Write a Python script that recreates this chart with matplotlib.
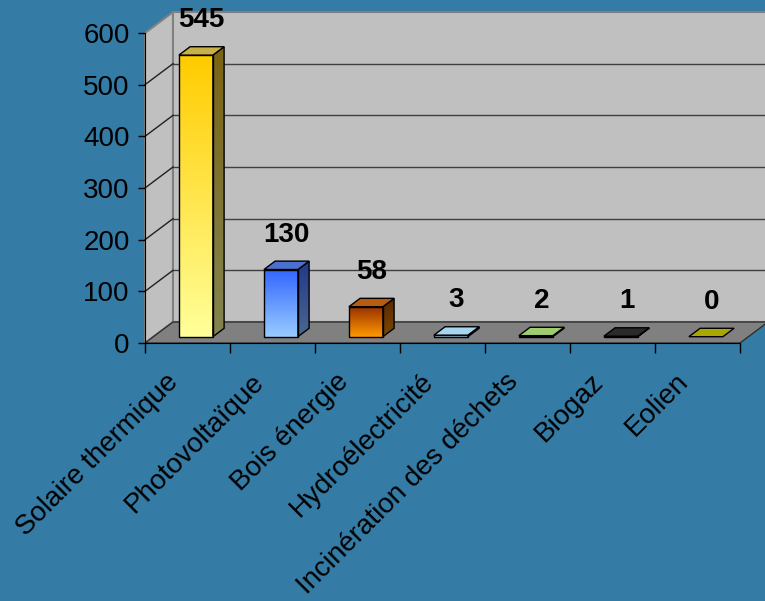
import numpy as np
import matplotlib
matplotlib.use("Agg")
import matplotlib.pyplot as plt
from matplotlib.patches import Polygon
from matplotlib.colors import to_rgb

plt.rcParams['font.family'] = ['Liberation Sans', 'DejaVu Sans']

# Données
categories = ["Solaire thermique", "Photovoltaïque", "Bois énergie",
              "Hydroélectricité", "Incinération des déchets", "Biogaz", "Eolien"]
values = [545, 130, 58, 3, 2, 1, 0]
y_ticks = [0, 100, 200, 300, 400, 500, 600]

# Couleurs des barres : face avant (haut, bas), côté (haut, bas), dessus
front_top = ['#FFCC00', '#3366FF', '#993300', '#6699CC', '#669933', '#000000', '#666600']
front_bottom = ['#FFFF99', '#99CCFF', '#FF9900', '#CCECFF', '#CCFF99', '#333333', '#CCCC00']
side_top = ['#7A6414', '#22388A', '#5A2600', '#3A5A7A', '#3A5A1A', '#000000', '#3A3A00']
side_bottom = ['#848450', '#4A6890', '#7A4A00', '#6A8AA0', '#6A8A4A', '#1A1A1A', '#6A6A00']
top_face = ['#C8B048', '#4A70D0', '#B85C10', '#A8D4F0', '#A0CC70', '#2A2A2A', '#A8A800']

BG = '#347BA5'
W, H = 765, 601
FS = 20

# Géométrie de la vue 3D (en pixels)
X0, Y0 = 145, 343        # origine de l'axe
PX_CAT = 85              # largeur d'une catégorie
PX_Y = 310 / 600         # pixels par unité
DEPTH_PX = (28, 21)      # profondeur du graphique

DX = DEPTH_PX[0] / PX_CAT
DY = DEPTH_PX[1] / PX_Y
BAR_W = 0.4
D0, D1 = 0.3, 0.7

fig = plt.figure(figsize=(W / 100, H / 100), dpi=100, facecolor=BG)
ax = fig.add_axes([0, 0, 1, 1])
ax.set_facecolor(BG)
n = len(categories)


def gradient_face(verts, c_top, c_bottom, z):
    poly = Polygon(verts, closed=True, facecolor='none', edgecolor='black',
                   lw=1, zorder=z + 0.1)
    ax.add_patch(poly)
    xs = [p[0] for p in verts]
    ys = [p[1] for p in verts]
    c0 = np.array(to_rgb(c_bottom))
    c1 = np.array(to_rgb(c_top))
    t = np.linspace(0, 1, 64)[:, None]
    img = (c0 + (c1 - c0) * t)[:, None, :]
    im = ax.imshow(img, extent=(min(xs), max(xs), min(ys), max(ys)),
                   origin='lower', aspect='auto', interpolation='bilinear',
                   zorder=z)
    im.set_clip_path(poly)


# Murs et sol
side_wall = [(0, 0), (0, 600), (DX, 600 + DY), (DX, DY)]
back_wall = [(DX, DY), (DX, 600 + DY), (n + DX, 600 + DY), (n + DX, DY)]
floor = [(0, 0), (n, 0), (n + DX, DY), (DX, DY)]
ax.add_patch(Polygon(side_wall, facecolor='#C0C0C0', edgecolor='#808080', lw=1.5, zorder=1))
ax.add_patch(Polygon(back_wall, facecolor='#C0C0C0', edgecolor='#808080', lw=1.5, zorder=1))
ax.add_patch(Polygon(floor, facecolor='#808080', edgecolor='#303030', lw=1, zorder=1.5))

# Quadrillage
for v in y_ticks[1:-1]:
    ax.plot([DX, n + DX], [v + DY, v + DY], color='#404040', lw=1, zorder=1.2)
    ax.plot([0, DX], [v, v + DY], color='#202020', lw=1, zorder=1.2)

# Barres
for i, v in enumerate(values):
    c = i + 0.5
    xl, xr = c - BAR_W / 2, c + BAR_W / 2
    z = 3 + i
    if v > 0:
        front = [(xl + D0 * DX, D0 * DY), (xr + D0 * DX, D0 * DY),
                 (xr + D0 * DX, v + D0 * DY), (xl + D0 * DX, v + D0 * DY)]
        side = [(xr + D0 * DX, D0 * DY), (xr + D1 * DX, D1 * DY),
                (xr + D1 * DX, v + D1 * DY), (xr + D0 * DX, v + D0 * DY)]
        gradient_face(front, front_top[i], front_bottom[i], z)
        gradient_face(side, side_top[i], side_bottom[i], z)
    top = [(xl + D0 * DX, v + D0 * DY), (xr + D0 * DX, v + D0 * DY),
           (xr + D1 * DX, v + D1 * DY), (xl + D1 * DX, v + D1 * DY)]
    ax.add_patch(Polygon(top, facecolor=top_face[i], edgecolor='black',
                         lw=1, zorder=z + 0.2))
    ax.annotate(str(v), (c + 0.5 * DX, v + 0.5 * DY), xytext=(0, 22),
                textcoords='offset points', ha='center', va='center',
                fontsize=FS, fontweight='bold', color='black', zorder=20)

# Axes
ax.set_xlim(-X0 / PX_CAT, (W - X0) / PX_CAT)
ax.set_ylim(-(H - Y0) / PX_Y, Y0 / PX_Y)
for s in ['top', 'right']:
    ax.spines[s].set_visible(False)
ax.spines['left'].set_position(('data', 0))
ax.spines['bottom'].set_position(('data', 0))
ax.spines['left'].set_bounds(0, 600)
ax.spines['bottom'].set_bounds(0, n)
ax.spines['left'].set_zorder(10)
ax.spines['bottom'].set_zorder(10)

ax.set_yticks(y_ticks)
ax.set_yticklabels([str(t) for t in y_ticks])
ax.tick_params(axis='y', direction='out', length=5, width=1, pad=6,
               labelsize=FS, colors='black')

# Étiquettes des catégories, légèrement décalées vers la gauche
ax.set_xticks(range(n + 1))
ax.set_xticklabels([])
ax.set_xticks(np.arange(n) + 0.5 - 0.15, categories, minor=True)
ax.tick_params(axis='x', which='major', direction='out', length=7, width=1)
ax.tick_params(axis='x', which='minor', length=0, pad=25, labelsize=FS)
for lbl in ax.get_xticklabels(minor=True):
    lbl.set_rotation(45)
    lbl.set_ha('right')
    lbl.set_va('center')
    lbl.set_rotation_mode('anchor')

fig.savefig('out.png', dpi=100, facecolor=BG)
